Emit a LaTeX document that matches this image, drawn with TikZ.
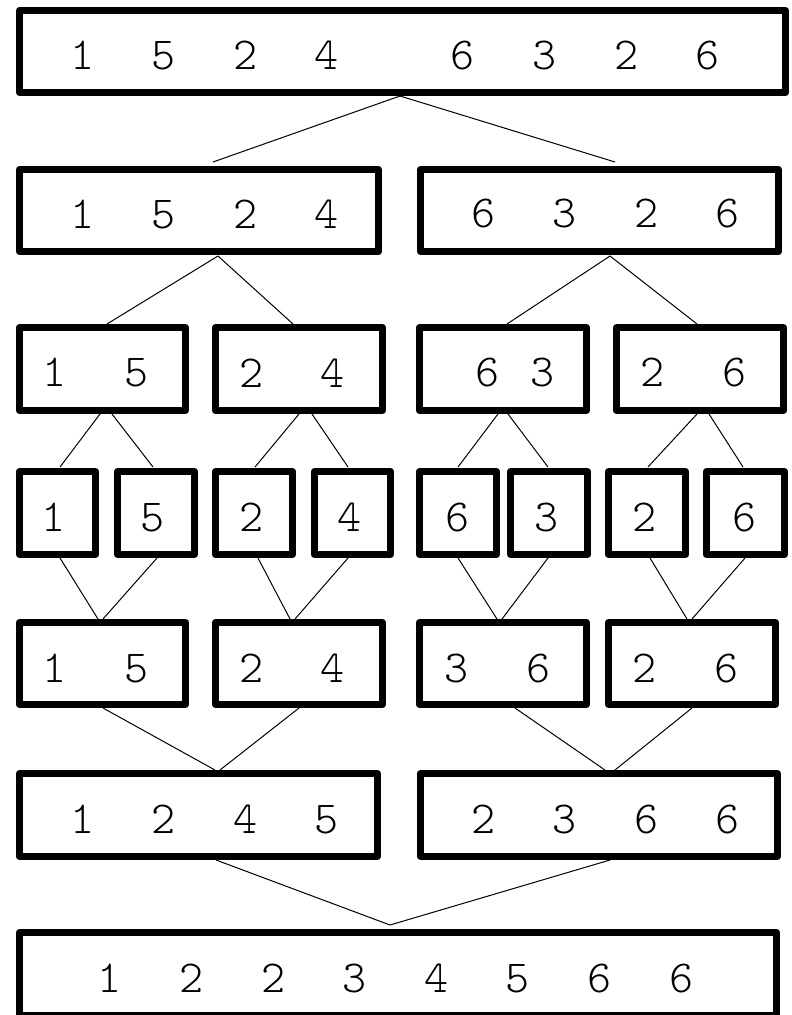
\documentclass[tikz,border=0pt]{standalone}
\usepackage{fontspec}
\IfFontExistsTF{lmmonolt10-regular.otf}
  {\newfontfamily\numfont{lmmonolt10-regular.otf}}
  {\newfontfamily\numfont{Liberation Mono}}
\usetikzlibrary{calc}
\newcommand\dg[1]{\makebox[27.2pt]{#1}}
\newcommand\sk{\hspace{27.2pt}}
\tikzset{
  box/.style={draw=black, line width=7pt, line join=round, rectangle, inner sep=0pt, fill=none},
  nums/.style={inner sep=0pt, font=\numfont\fontsize{45.8}{50}\selectfont, text=black},
  link/.style={draw=black, line width=1pt},
}
\begin{document}
\begin{tikzpicture}[x=1pt, y=-1pt]
\useasboundingbox (0,0) rectangle (792,1015);
\fill[white] (0,0) rectangle (792,1015);
% row 1
\node[box, minimum width=766, minimum height=82] (r1) at (402.5,51.5) {};
% row 2
\node[box, minimum width=359, minimum height=82] (r2a) at (199,210.5) {};
\node[box, minimum width=358, minimum height=82] (r2b) at (599.5,210.5) {};
% row 3
\node[box, minimum width=166, minimum height=83] (r3a) at (102.5,369) {};
\node[box, minimum width=167, minimum height=83] (r3b) at (299,369) {};
\node[box, minimum width=167, minimum height=83] (r3c) at (503,369) {};
\node[box, minimum width=167, minimum height=83] (r3d) at (700,369) {};
% row 4
\node[box, minimum width=76, minimum height=83] (r4a) at (57.5,513) {};
\node[box, minimum width=77, minimum height=83] (r4b) at (156,513) {};
\node[box, minimum width=77, minimum height=83] (r4c) at (254,513) {};
\node[box, minimum width=76, minimum height=83] (r4d) at (352.5,513) {};
\node[box, minimum width=77, minimum height=83] (r4e) at (458,513) {};
\node[box, minimum width=77, minimum height=83] (r4f) at (549,513) {};
\node[box, minimum width=77, minimum height=83] (r4g) at (647,513) {};
\node[box, minimum width=78, minimum height=83] (r4h) at (745.5,513) {};
% row 5
\node[box, minimum width=166, minimum height=82] (r5a) at (102.5,663.5) {};
\node[box, minimum width=167, minimum height=82] (r5b) at (299,663.5) {};
\node[box, minimum width=167, minimum height=82] (r5c) at (503,663.5) {};
\node[box, minimum width=167, minimum height=82] (r5d) at (692,663.5) {};
% row 6
\node[box, minimum width=358, minimum height=83] (r6a) at (198.5,815) {};
\node[box, minimum width=357, minimum height=83] (r6b) at (599,815) {};
% row 7
\node[box, minimum width=757, minimum height=83] (r7) at (398,974) {};

% texts
\node[nums] (t1) at (395,55.5) {\dg1\sk\sk\dg5\sk\sk\dg2\sk\sk\dg4\sk\sk\sk\sk\dg6\sk\sk\dg3\sk\sk\dg2\sk\sk\dg6};
\node[nums] (t2a) at (204.5,214) {\dg1\sk\sk\dg5\sk\sk\dg2\sk\sk\dg4};
\node[nums] (t2b) at (605.5,214) {\dg6\sk\sk\dg3\sk\sk\dg2\sk\sk\dg6};
\node[nums] (t3a) at (95.5,373) {\dg1\sk\sk\dg5};
\node[nums] (t3b) at (292,373) {\dg2\sk\sk\dg4};
\node[nums] (t3c) at (515,373) {\dg6\sk\dg3};
\node[nums] (t3d) at (693.5,373) {\dg2\sk\sk\dg6};
\node[nums] (t4a) at (54,517.5) {\dg1};
\node[nums] (t4b) at (153,517.5) {\dg5};
\node[nums] (t4c) at (252,517.5) {\dg2};
\node[nums] (t4d) at (350,517.5) {\dg4};
\node[nums] (t4e) at (458,517.5) {\dg6};
\node[nums] (t4f) at (547,517.5) {\dg3};
\node[nums] (t4g) at (645,517.5) {\dg2};
\node[nums] (t4h) at (745,517.5) {\dg6};
\node[nums] (t5a) at (95.5,668) {\dg1\sk\sk\dg5};
\node[nums] (t5b) at (292,668) {\dg2\sk\sk\dg4};
\node[nums] (t5c) at (497.5,668) {\dg3\sk\sk\dg6};
\node[nums] (t5d) at (685.5,668) {\dg2\sk\sk\dg6};
\node[nums] (t6a) at (204.5,819) {\dg1\sk\sk\dg2\sk\sk\dg4\sk\sk\dg5};
\node[nums] (t6b) at (605.5,819) {\dg2\sk\sk\dg3\sk\sk\dg6\sk\sk\dg6};
\node[nums] (t7) at (395.5,978) {\dg1\sk\sk\dg2\sk\sk\dg2\sk\sk\dg3\sk\sk\dg4\sk\sk\dg5\sk\sk\dg6\sk\sk\dg6};

% connectors
\draw[link] ($(r1.south)+(-2.5,0)$) -- ($(r2a.north)+(14,-4)$);
\draw[link] ($(r1.south)+(-2.5,0)$) -- ($(r2b.north)+(15.5,-4)$);

\draw[link] ($(r2a.south)+(19,1)$) -- ($(r3a.north)+(4.5,0)$);
\draw[link] ($(r2a.south)+(19,1)$) -- ($(r3b.north)+(-6,0)$);
\draw[link] ($(r2b.south)+(10.5,1)$) -- ($(r3c.north)+(4,0)$);
\draw[link] ($(r2b.south)+(10.5,1)$) -- ($(r3d.north)+(-3,0)$);

\draw[link] ($(r3a.south)+(-2.5,0)$) -- ($(r4a.north)+(2.5,-1)$);
\draw[link] ($(r3a.south)+(9.5,0)$) -- ($(r4b.north)+(-3,-1)$);
\draw[link] ($(r3b.south)+(0,0)$) -- ($(r4c.north)+(1,-1)$);
\draw[link] ($(r3b.south)+(13,0)$) -- ($(r4d.north)+(-4.5,-1)$);
\draw[link] ($(r3c.south)+(-5,0)$) -- ($(r4e.north)+(0,-1)$);
\draw[link] ($(r3c.south)+(5,0)$) -- ($(r4f.north)+(-1,-1)$);
\draw[link] ($(r3d.south)+(-3,0)$) -- ($(r4g.north)+(1,-1)$);
\draw[link] ($(r3d.south)+(9,0)$) -- ($(r4h.north)+(-2.5,-1)$);

\draw[link] ($(r4a.south)+(2.5,0)$) -- ($(r5a.north)+(-4.5,0)$);
\draw[link] ($(r4b.south)+(1,0)$) -- ($(r5a.north)+(0.5,0)$);
\draw[link] ($(r4c.south)+(4,0)$) -- ($(r5b.north)+(-9,0)$);
\draw[link] ($(r4d.south)+(-4.5,0)$) -- ($(r5b.north)+(-4,0)$);
\draw[link] ($(r4e.south)+(0,0)$) -- ($(r5c.north)+(-6,0)$);
\draw[link] ($(r4f.south)+(-1,0)$) -- ($(r5c.north)+(-1,0)$);
\draw[link] ($(r4g.south)+(3,0)$) -- ($(r5d.north)+(-5,0)$);
\draw[link] ($(r4h.south)+(-0.5,0)$) -- ($(r5d.north)+(0,0)$);

\draw[link] ($(r5a.south)+(0.5,0)$) -- ($(r6a.north)+(16.5,0)$);
\draw[link] ($(r5b.south)+(0,0)$) -- ($(r6a.north)+(21.5,0)$);
\draw[link] ($(r5c.south)+(12,0)$) -- ($(r6b.north)+(6,0)$);
\draw[link] ($(r5d.south)+(0,0)$) -- ($(r6b.north)+(16,0)$);

\draw[link] ($(r6a.south)+(17.5,0)$) -- ($(r7.north)+(-8,-4)$);
\draw[link] ($(r6b.south)+(11,0)$) -- ($(r7.north)+(-8,-4)$);
\end{tikzpicture}
\end{document}
